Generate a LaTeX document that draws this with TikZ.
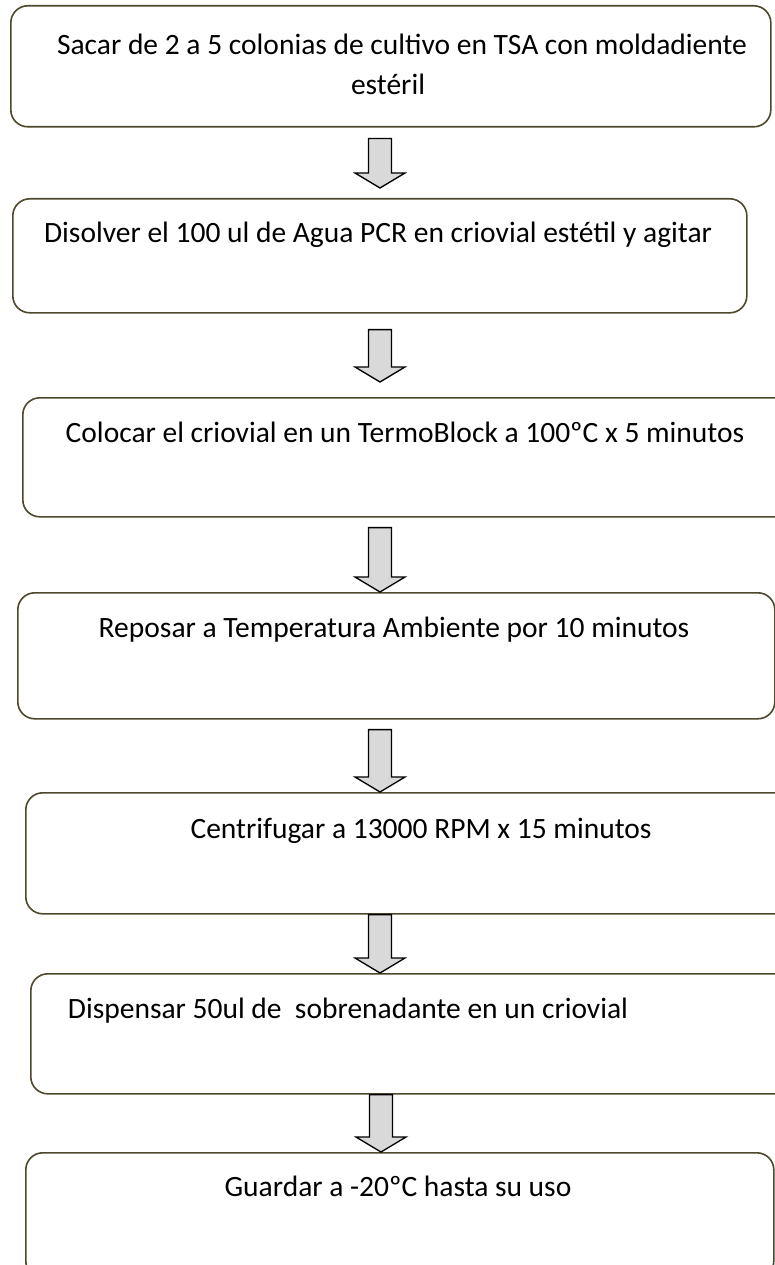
\documentclass[tikz,border=0pt]{standalone}
\usepackage{fontspec}
\setmainfont{Carlito}
\usetikzlibrary{calc}
\definecolor{boxline}{RGB}{78,72,44}
\definecolor{arrowfill}{RGB}{217,217,217}
\tikzset{
  stepbox/.style={draw=boxline, line width=1.6pt, rounded corners=17pt, anchor=north west, inner sep=0pt},
  steptext/.style={anchor=base, inner sep=0pt, font=\fontsize{29.5}{40}\selectfont},
  flowarr/.style={draw=black, fill=arrowfill, line width=1.3pt, line join=miter},
}
% block arrow from a start point (top of shaft) to the tip
\newcommand{\flowarrow}[2]{%
  \path (#1) coordinate (fa-s) (#2) coordinate (fa-e);
  \draw[flowarr] ($(fa-s)+(-11.5,0)$) -- ($(fa-e)+(-11.5,-15)$) -- ($(fa-e)+(-25,-15)$)
    -- (fa-e) -- ($(fa-e)+(25,-15)$) -- ($(fa-e)+(11.5,-15)$) -- ($(fa-s)+(11.5,0)$) -- cycle;}
\begin{document}
\begin{tikzpicture}[x=1pt, y=-1pt, line join=round, line cap=round]
  \useasboundingbox[fill=white] (0,0) rectangle (775,1265);
  \clip (0,0) rectangle (775,1265);
  % boxes
  \node[stepbox, minimum width=760pt, minimum height=121pt] (b1) at (10,5) {};
  \node[stepbox, minimum width=734pt, minimum height=114pt] (b2) at (12,198) {};
  \node[stepbox, minimum width=770pt, minimum height=119pt] (b3) at (22,397) {};
  \node[stepbox, minimum width=757pt, minimum height=126pt] (b4) at (17,592) {};
  \node[stepbox, minimum width=770pt, minimum height=121pt] (b5) at (25,792) {};
  \node[stepbox, minimum width=770pt, minimum height=120pt] (b6) at (30,973) {};
  \node[stepbox, minimum width=748pt, minimum height=125pt] (b7) at (25,1152) {};
  % texts
  \node[steptext] (t1a) at (402,55) {Sacar de 2 a 5 colonias de cultivo en TSA con moldadiente};
  \node[steptext] (t1b) at (388,95) {estéril};
  \node[steptext] (t2) at (378,243) {Disolver el 100 ul de Agua PCR en criovial estétil y agitar};
  \node[steptext] (t3) at (405,442) {Colocar el criovial en un TermoBlock a 100ºC x 5 minutos};
  \node[steptext] (t4) at (394,637) {Reposar a Temperatura Ambiente por 10 minutos};
  \node[steptext] (t5) at (421,838) {Centrifugar a 13000 RPM x 15 minutos};
  \node[steptext] (t6) at (348,1018) {Dispensar 50ul de\ \ sobrenadante en un criovial};
  \node[steptext] (t7) at (398,1196) {Guardar a -20ºC hasta su uso};
  % arrows
  \coordinate (ax) at (380,0);
  \flowarrow{$(ax |- b1.south)+(0,11)$}{$(ax |- b2.north)+(0,-10)$}
  \flowarrow{$(ax |- b2.south)+(0,16)$}{$(ax |- b3.north)+(0,-15)$}
  \flowarrow{$(ax |- b3.south)+(0,10)$}{ax |- b4.north}
  \flowarrow{$(ax |- b4.south)+(0,10)$}{ax |- b5.north}
  \flowarrow{ax |- b5.south}{ax |- b6.north}
  \flowarrow{$(ax |- b6.south)+(1,0)$}{$(ax |- b7.north)+(1,0)$}
\end{tikzpicture}
\end{document}
